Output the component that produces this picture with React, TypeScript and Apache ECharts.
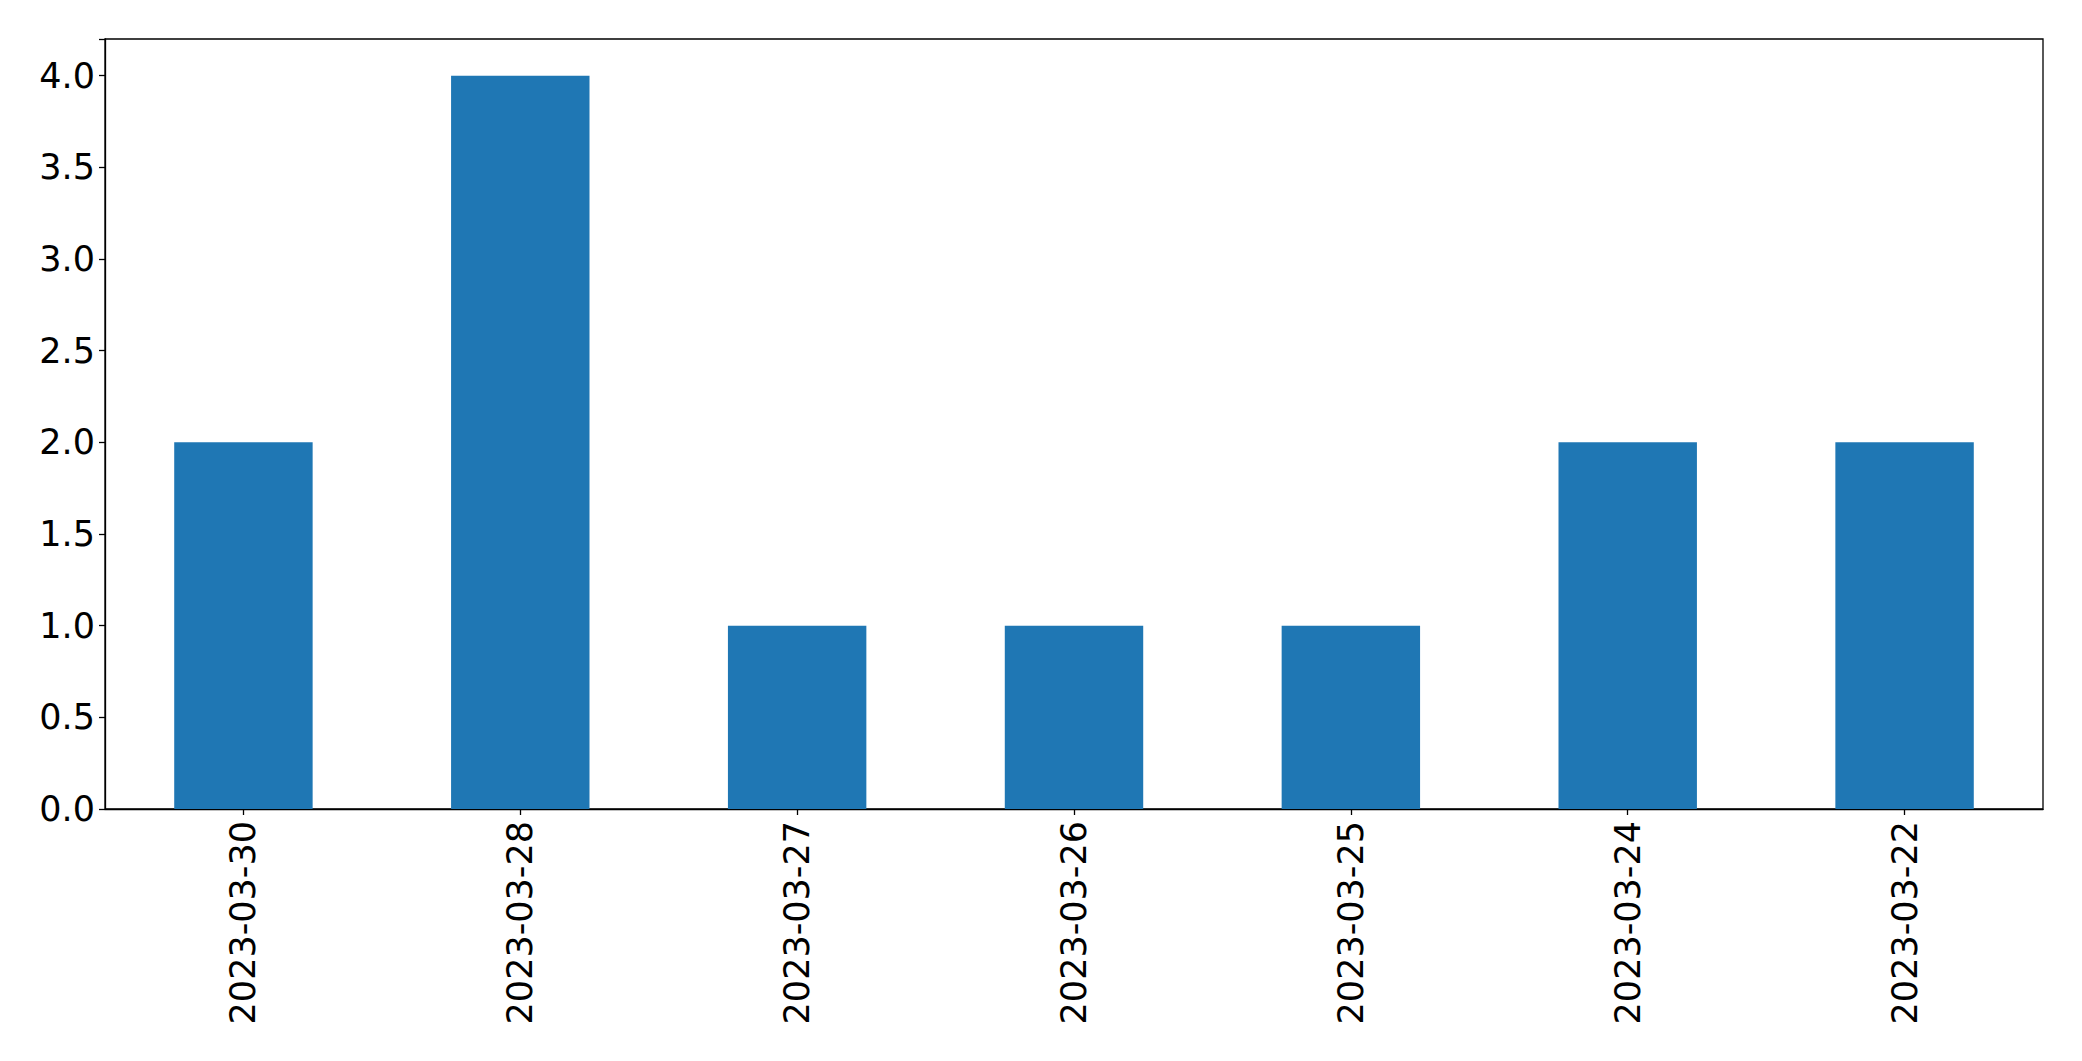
import React, { useEffect, useRef } from "react";
import * as echarts from "echarts";

const categories = ["2023-03-30", "2023-03-28", "2023-03-27", "2023-03-26", "2023-03-25", "2023-03-24", "2023-03-22"];
const counts = [2, 4, 1, 1, 1, 2, 2];
const yMax = 4.2;
const yInterval = 0.5;

export default function App() {
  const ref = useRef<HTMLDivElement>(null);
  useEffect(() => {
    if (!ref.current) return;
    const chart = echarts.init(ref.current, null, { renderer: "svg" });
    const font = "DejaVu Sans";
    chart.setOption({
      animation: false,
      backgroundColor: "#ffffff",
      grid: {
        left: 105,
        right: 39,
        top: 39,
        bottom: 252,
        show: true,
        borderColor: "#000000",
        borderWidth: 1.3,
        containLabel: false,
      },
      xAxis: {
        type: "category",
        data: categories,
        boundaryGap: true,
        axisLine: { show: true, lineStyle: { color: "#000000", width: 1.3 } },
        axisTick: { show: true, alignWithLabel: true, length: 6, lineStyle: { color: "#000000", width: 1.3 } },
        axisLabel: {
          rotate: 90,
          margin: 12,
          color: "#000000",
          fontFamily: font,
          fontSize: 35,
          interval: 0,
        },
        splitLine: { show: false },
      },
      yAxis: {
        type: "value",
        min: 0,
        max: yMax,
        interval: yInterval,
        axisLine: { show: true, lineStyle: { color: "#000000", width: 1.3 } },
        axisTick: { show: true, length: 6, lineStyle: { color: "#000000", width: 1.3 } },
        axisLabel: {
          margin: 10,
          color: "#000000",
          fontFamily: font,
          fontSize: 35,
          formatter: (v: number) => {
            const r = Math.round(v / yInterval) * yInterval;
            return Math.abs(r - v) < 1e-9 ? v.toFixed(1) : "";
          },
        },
        splitLine: { show: false },
      },
      series: [
        {
          type: "bar",
          data: counts,
          barWidth: "50%",
          itemStyle: { color: "#1f77b4" },
        },
      ],
    });
    return () => chart.dispose();
  }, []);
  return (
    <div
      ref={ref}
      style={{ position: "fixed", left: 0, top: 0, width: 2082, height: 1061, background: "#fff" }}
    />
  );
}
